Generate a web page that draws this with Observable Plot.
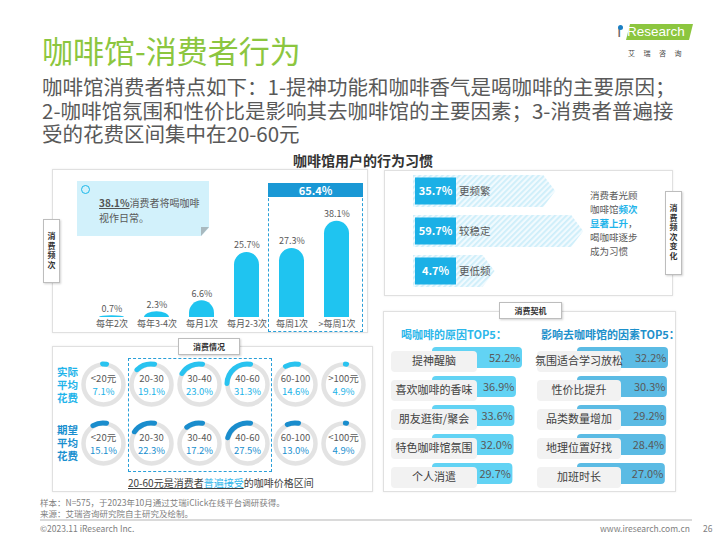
<!DOCTYPE html>
<html><head><meta charset="utf-8">
<script src="https://cdn.jsdelivr.net/npm/d3@7"></script>
<script src="https://cdn.jsdelivr.net/npm/@observablehq/plot@0.6"></script>
<style>
html,body{margin:0;padding:0;background:#fff;overflow:hidden}
#page{position:relative;width:720px;height:540px;font-family:"Noto Sans CJK SC","Noto Sans",sans-serif;color:#595959;overflow:hidden}
.abs{position:absolute;white-space:nowrap}
.panel{position:absolute;border:1px solid #e0e0e0;box-sizing:border-box;background:#fff;box-shadow:0 0 2px rgba(0,0,0,.08)}
.tag{position:absolute;background:#fff;border:1px solid #bdbdbd;box-sizing:border-box;box-shadow:1px 1px 2px rgba(0,0,0,.18);font-weight:bold;font-size:8px;color:#333;display:flex;align-items:center;justify-content:center}
.vtag{writing-mode:vertical-rl;letter-spacing:1.6px}
#plots svg{position:absolute;left:0;top:0}
</style></head><body><div id="page">
<div class="abs" style="left:42px;top:33px;font-size:31px;line-height:34px;color:#8cc63f">咖啡馆-消费者行为</div>
<div class="abs" style="left:617px;top:22px;font-size:16px;line-height:20px;color:#666;font-family:'Liberation Sans',Arial">ı</div>
<div class="abs" style="left:617.5px;top:25px;width:5px;height:5px;border-radius:50%;background:#1a7fc4"></div>
<div class="abs" style="left:628px;top:24px;width:63px;height:16px;background:#8cc63f;transform:skewX(-14deg)"></div>
<div class="abs" style="left:627px;top:23px;font-size:13.5px;line-height:18px;color:#fff;font-family:'Liberation Sans',Arial">Research</div>
<div class="abs" style="left:628px;top:49px;font-size:7px;line-height:9px;color:#444;letter-spacing:8.5px">艾瑞咨询</div>
<div class="abs" style="left:42px;top:75px;font-size:20.5px;line-height:23.5px;color:#595959">咖啡馆消费者特点如下：1-提神功能和咖啡香气是喝咖啡的主要原因；<br>2-咖啡馆氛围和性价比是影响其去咖啡馆的主要因素；3-消费者普遍接<br>受的花费区间集中在20-60元</div>
<div class="abs" style="left:293px;top:151px;font-size:14px;line-height:18px;font-weight:bold;color:#333">咖啡馆用户的行为习惯</div>

<div class="panel" style="left:52px;top:169px;width:316px;height:164px"></div>
<div class="panel" style="left:384px;top:170px;width:289px;height:126px"></div>
<div class="panel" style="left:52px;top:346px;width:321px;height:146px"></div>
<div class="panel" style="left:383px;top:311px;width:293px;height:181px"></div>

<div class="abs" style="left:77px;top:181px;width:132px;height:55px;background:#d2f1fb;clip-path:polygon(0 0,100% 0,100% 85%,94% 100%,0 100%)"></div>
<div class="abs" style="left:201px;top:227px;width:8px;height:9px;background:#a9b9bf;clip-path:polygon(0 0,100% 0,0 100%)"></div>
<div class="abs" style="left:80.5px;top:184.5px;width:7px;height:7px;border:1.6px solid #1ab8ea;border-radius:50%"></div>
<div class="abs" id="callout" style="left:99px;top:196px;font-size:10px;line-height:14.5px;color:#595959"></div>

<div class="abs" style="left:268px;top:183px;width:95px;height:149px;border:1px dashed #2a9fd8;box-sizing:border-box"></div>
<div class="abs" id="sumhead" style="left:268px;top:183px;width:95px;height:14px;background:#1a98d5;color:#fff;font-weight:bold;font-size:11px;line-height:14px;text-align:center"></div>

<div class="abs" style="left:128px;top:358px;width:144px;height:114px;border:1px dashed #2a9fd8;box-sizing:border-box"></div>

<div id="plots" class="abs" style="left:0;top:0;width:720px;height:540px"></div>

<div class="tag" style="left:43px;top:219px;width:17px;height:64px"><span class="vtag">消费频次</span></div>
<div class="tag" style="left:665px;top:191px;width:17px;height:84px"><span class="vtag">消费频次变化</span></div>
<div class="tag" style="left:499px;top:302px;width:63px;height:17px">消费契机</div>
<div class="tag" style="left:178px;top:338px;width:62px;height:17px">消费情况</div>

<div class="abs" style="left:590px;top:188px;font-size:9.5px;line-height:14px;color:#595959">消费者光顾<br>咖啡馆<b style="color:#1fb4ea">频次</b><br><b style="color:#1fb4ea">显著上升</b>，<br>喝咖啡逐步<br>成为习惯</div>

<div class="abs" style="left:401px;top:327px;font-size:11px;line-height:14px;font-weight:bold;color:#2cb7ea">喝咖啡的原因TOP5：</div>
<div class="abs" style="left:541px;top:327px;font-size:11px;line-height:14px;font-weight:bold;color:#1d90cb">影响去咖啡馆的因素TOP5：</div>

<div class="abs" style="left:57px;top:365px;font-size:10.5px;line-height:13px;font-weight:bold;color:#1fb4ea">实际<br>平均<br>花费</div>
<div class="abs" style="left:57px;top:423px;font-size:10.5px;line-height:13px;font-weight:bold;color:#1a8fcf">期望<br>平均<br>花费</div>
<div class="abs" style="left:128px;top:476px;font-size:10px;line-height:14px;color:#404040"><span style="text-decoration:underline">20-60元是消费者<span style="color:#1fb4ea">普遍接受</span></span>的咖啡价格区间</div>

<div class="abs" style="left:40px;top:497px;font-size:8.5px;line-height:11px;color:#808080">样本：N=575，于2023年10月通过艾瑞iClick在线平台调研获得。<br>来源：艾瑞咨询研究院自主研究及绘制。</div>
<div class="abs" style="left:40px;top:519px;width:652px;height:2px;background:#dadada"></div>
<div class="abs" style="left:40px;top:523px;font-size:8.5px;line-height:11px;color:#808080">©2023.11 iResearch Inc.</div>
<div class="abs" style="left:600px;top:523px;font-size:8.5px;line-height:11px;color:#808080">www.iresearch.com.cn</div>
<div class="abs" style="left:703px;top:523px;font-size:8.5px;line-height:11px;color:#808080">26</div>
</div>
<script>
// ---------- data ----------
const freqCats = ["每年2次","每年3-4次","每月1次","每月2-3次","每周1次",">每周1次"];
const freqVals = [0.7,2.3,6.6,25.7,27.3,38.1];
const changeLabels = ["更频繁","较稳定","更低频"];
const changeVals = [35.7,59.7,4.7];
const reasonLabels = ["提神醒脑","喜欢咖啡的香味","朋友逛街/聚会","特色咖啡馆氛围","个人消遣"];
const reasonVals = [52.2,36.9,33.6,32.0,29.7];
const factorLabels = ["氛围适合学习放松","性价比提升","品类数量增加","地理位置好找","加班时长"];
const factorVals = [32.2,30.3,29.2,28.4,27.0];
const spendRows = ["实际平均花费","期望平均花费"];
const actualRanges = ["<20元","20-30","30-40","40-60","60-100",">100元"];
const actualVals = [7.1,19.1,23.0,31.3,14.6,4.9];
const expectRanges = ["<20元","20-30","30-40","40-60","60-100","<100元"];
const expectVals = [15.1,22.3,17.2,27.5,13.0,4.9];

const FONT = '"Noto Sans CJK SC","Noto Sans",sans-serif';
const pct = v => v.toFixed(1) + "%";
const baseStyle = {background: "transparent", fontFamily: FONT, overflow: "visible"};
const holder = document.getElementById("plots");

// callout + sum header text from data
const daily = freqVals[freqVals.length - 1];
document.getElementById("callout").innerHTML =
  `<b style="text-decoration:underline;color:#555">${pct(daily)}</b>消费者将喝咖啡<br>视作日常。`;
document.getElementById("sumhead").textContent = pct(freqVals[4] + freqVals[5]);

// ---------- frequency bars ----------
const freqData = freqCats.map((c, i) => ({c, v: freqVals[i]}));
holder.append(Plot.plot({
  width: 720, height: 540, marginTop: 216, marginBottom: 223, marginLeft: 0, marginRight: 0,
  style: {...baseStyle, fontSize: "9px", color: "#595959"},
  x: {domain: freqCats, range: [87.3, 359.7], paddingInner: 0.45, paddingOuter: 0.225, tickSize: 0, tickPadding: 3, label: null},
  y: {domain: [0, 40], axis: null},
  marks: [
    Plot.barY(freqData, {x: "c", y1: d => -d.v, y2: "v", fill: "#1fc4f0", rx: 12.5, clip: true}),
    Plot.text(freqData, {x: "c", y: "v", text: d => pct(d.v), dy: -7, fontSize: 9, fill: "#595959"})
  ]
}));

// ---------- frequency change arrows ----------
const changeData = changeLabels.map((l, i) => ({l, v: changeVals[i]}));
holder.append(Plot.plot({
  width: 720, height: 540, margin: 0,
  style: baseStyle,
  x: {type: "sqrt", domain: [0, 60], range: [460, 583.5], axis: null},
  y: {type: "point", domain: changeLabels, range: [190, 271], padding: 0, axis: null},
  marks: [
    Plot.dot(changeData, {x: "v", y: "l", r: 0, fill: "none"}),
    (index, scales) => {
      const g = d3.create("svg:g");
      const pat = g.append("defs").append("pattern").attr("id", "hatch")
        .attr("patternUnits", "userSpaceOnUse").attr("width", 4).attr("height", 4)
        .attr("patternTransform", "rotate(45)");
      pat.append("rect").attr("width", 4).attr("height", 4).attr("fill", "#f1fafe");
      pat.append("rect").attr("width", 1.8).attr("height", 4).attr("fill", "#cdeefa");
      const x0 = 413, half = 16, tipLen = 12;
      for (const d of changeData) {
        const y = scales.y(d.l), tip = scales.x(d.v);
        g.append("path")
          .attr("d", `M${x0},${y - half}L${tip - tipLen},${y - half}L${tip},${y}L${tip - tipLen},${y + half}L${x0},${y + half}Z`)
          .attr("fill", "url(#hatch)");
        g.append("rect").attr("x", 415).attr("y", y - 13.5).attr("width", 41).attr("height", 27).attr("fill", "#1bb0e6");
        g.append("text").attr("x", 435.5).attr("y", y).attr("dy", "0.36em").attr("text-anchor", "middle")
          .attr("fill", "#fff").attr("font-weight", "bold").attr("font-size", 11).text(pct(d.v));
        g.append("text").attr("x", 459).attr("y", y).attr("dy", "0.36em").attr("text-anchor", "start")
          .attr("fill", "#595959").attr("font-size", 10.5).text(d.l);
      }
      return g.node();
    }
  ]
}));

// ---------- TOP5 bars ----------
function topPlot(labels, vals, range, color, px1, px2) {
  const data = labels.map((l, i) => ({l, v: vals[i]}));
  return Plot.plot({
    width: 720, height: 540, margin: 0,
    style: baseStyle,
    x: {type: "pow", exponent: 0.2, domain: [0, d3.max(vals)], range, axis: null},
    y: {domain: labels, range: [342.9, 488.9], paddingInner: 0.28, paddingOuter: 0.14, axis: null},
    marks: [
      Plot.barX(data, {x: "v", y: "l", fill: color, rx: 4}),
      (index, scales) => {
        const g = d3.create("svg:g");
        const bw = scales.y.bandwidth ? scales.y.bandwidth() : 21;
        for (const l of labels) {
          const y = scales.y(l) + 4;
          g.append("rect").attr("x", px1).attr("y", y).attr("width", px2 - px1).attr("height", bw)
            .attr("rx", 4).attr("fill", "#f2f2f2");
          g.append("text").attr("x", (px1 + px2) / 2).attr("y", y + bw / 2).attr("dy", "0.36em")
            .attr("text-anchor", "middle").attr("font-size", 11).attr("fill", "#404040").text(l);
        }
        return g.node();
      },
      Plot.text(data, {x: "v", y: "l", text: d => pct(d.v), textAnchor: "end", dx: -2, fontSize: 11, fill: "#595959"})
    ]
  });
}
holder.append(topPlot(reasonLabels, reasonVals, [432, 522], "#62d3f4", 391, 477));
holder.append(topPlot(factorLabels, factorVals, [577, 668], "#5bbbe4", 537, 621));

// ---------- spending donuts ----------
const rowColors = {"实际平均花费": "#29c3f0", "期望平均花费": "#1a8dcd"};
const textColors = {"实际平均花费": "#22b3e8", "期望平均花费": "#1a8fcf"};
const spendData = [
  ...actualRanges.map((r, i) => ({row: spendRows[0], i, r, v: actualVals[i]})),
  ...expectRanges.map((r, i) => ({row: spendRows[1], i, r, v: expectVals[i]}))
];
holder.append(Plot.plot({
  width: 720, height: 540, margin: 0,
  style: baseStyle,
  x: {type: "point", domain: d3.range(6), range: [102, 343], padding: 0, axis: null},
  y: {type: "point", domain: spendRows, range: [384, 443], padding: 0, axis: null},
  marks: [
    Plot.dot(spendData, {x: "i", y: "row", r: 20, stroke: "#e3e3e3", strokeWidth: 4.5, fill: "none"}),
    (index, scales) => {
      const g = d3.create("svg:g");
      const arc = d3.arc().innerRadius(17.5).outerRadius(22.5).cornerRadius(2.5);
      const end = 0.3;
      for (const d of spendData) {
        g.append("path")
          .attr("transform", `translate(${scales.x(d.i)},${scales.y(d.row)})`)
          .attr("d", arc({startAngle: end - d.v / 100 * 2 * Math.PI, endAngle: end}))
          .attr("fill", rowColors[d.row]);
      }
      return g.node();
    },
    Plot.text(spendData, {x: "i", y: "row", text: "r", dy: -5.5, fontSize: 9.5, fill: "#595959"}),
    Plot.text(spendData.filter(d => d.row === spendRows[0]), {x: "i", y: "row", text: d => pct(d.v), dy: 7, fontSize: 9.5, fill: textColors[spendRows[0]]}),
    Plot.text(spendData.filter(d => d.row === spendRows[1]), {x: "i", y: "row", text: d => pct(d.v), dy: 7, fontSize: 9.5, fill: textColors[spendRows[1]]})
  ]
}));
</script>
</body></html>
